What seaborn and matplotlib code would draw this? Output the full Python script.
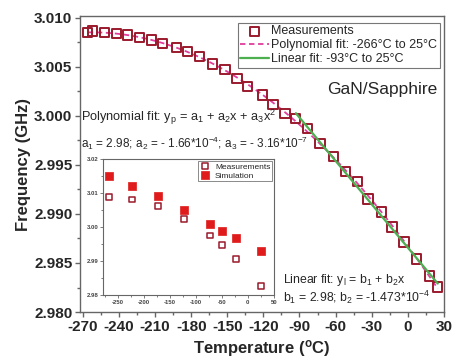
import numpy as np
import matplotlib
matplotlib.use("Agg")
import matplotlib.pyplot as plt
import seaborn as sns
from matplotlib.ticker import MultipleLocator, FormatStrFormatter

# Resonance frequency of the GaN/Sapphire resonator versus temperature
temperature_c = [-266, -262, -252, -242, -233, -223, -213, -204, -192, -183,
                 -173, -162, -152, -142, -133, -121, -112, -102, -93, -83,
                 -73, -62, -52, -42, -33, -22, -13, -3, 7, 18, 25]
frequency_ghz = [3.00854, 3.00867, 3.00854, 3.00844, 3.00827, 3.00803, 3.00776,
                 3.00742, 3.00701, 3.00656, 3.00605, 3.00531, 3.00477, 3.00385,
                 3.00299, 3.00214, 3.00119, 3.00028, 2.99977, 2.99874, 2.99721,
                 2.99585, 2.99432, 2.99330, 2.99153, 2.99020, 2.98867, 2.98714,
                 2.98541, 2.98367, 2.98255]

# Fit coefficients quoted on the chart
poly_a2, poly_a3 = -1.66e-4, -3.16e-7
lin_b2 = -1.473e-4
lin_start = -93

# Inset: measured vs simulated frequency
inset_temp = [-266, -223, -173, -123, -73, -50, -23, 25]
inset_meas = [3.0087, 3.0081, 3.0062, 3.0023, 2.9975, 2.9946, 2.9906, 2.9827]
inset_sim = [3.0150, 3.0121, 3.0091, 3.0050, 3.0009, 2.9989, 2.9969, 2.9929]

sns.set_style("ticks")
plt.rcParams["font.family"] = ["Liberation Sans", "DejaVu Sans"]
plt.rcParams["mathtext.fontset"] = "custom"
plt.rcParams["mathtext.rm"] = "Liberation Sans"
plt.rcParams["mathtext.it"] = "Liberation Sans:italic"
plt.rcParams["mathtext.bf"] = "Liberation Sans:bold"
plt.rcParams["axes.unicode_minus"] = False

DARKRED = "#9a1a2c"
PINK = "#e23c9c"
GREEN = "#4caf50"
RED = "#e01b1b"
SPINE = "#666666"

T = np.asarray(temperature_c, dtype=float)
F = np.asarray(frequency_ghz, dtype=float)

# intercepts fitted with the quoted slopes held fixed
poly_a1 = np.mean(F - poly_a2 * T - poly_a3 * T ** 2)
mask = T >= lin_start
lin_b1 = np.mean(F[mask] - lin_b2 * T[mask])

poly_x = np.linspace(T.min(), T.max(), 300)
poly_y = poly_a1 + poly_a2 * poly_x + poly_a3 * poly_x ** 2
lin_x = np.linspace(lin_start, T.max(), 50)
lin_y = lin_b1 + lin_b2 * lin_x

fig = plt.figure(figsize=(4.54, 3.62), dpi=100)
ax = fig.add_axes([0.1762, 0.1381, 0.8018, 0.8177])

sns.lineplot(x=poly_x, y=poly_y, ax=ax, color=PINK, linewidth=1.3,
             linestyle=(0, (3, 2)), label="Polynomial fit: -266\u00b0C to 25\u00b0C",
             zorder=2)
sns.scatterplot(x=T, y=F, ax=ax, marker="s", s=44, color=DARKRED,
                facecolor="none", edgecolor=DARKRED, linewidth=1.4,
                label="Measurements", zorder=3)
sns.lineplot(x=lin_x, y=lin_y, ax=ax, color=GREEN, linewidth=1.6,
             label="Linear fit: -93\u00b0C to 25\u00b0C", zorder=4)

ax.set_xlim(-272.5, 30.2)
ax.set_ylim(2.980, 3.0102)
ax.xaxis.set_major_locator(MultipleLocator(30))
ax.xaxis.set_minor_locator(MultipleLocator(15))
ax.yaxis.set_major_locator(MultipleLocator(0.005))
ax.yaxis.set_minor_locator(MultipleLocator(0.0025))
ax.yaxis.set_major_formatter(FormatStrFormatter("%.3f"))
ax.xaxis.set_major_formatter(FormatStrFormatter("%d"))
ax.tick_params(which="both", direction="out", top=False, right=False,
               color=SPINE, width=1.0)
ax.tick_params(which="major", length=3.5, pad=2, labelsize=11)
ax.tick_params(which="minor", length=2)
for lbl in ax.get_xticklabels() + ax.get_yticklabels():
    lbl.set_fontweight("bold")
for sp in ax.spines.values():
    sp.set_color(SPINE)
    sp.set_linewidth(1.0)

ax.set_xlabel(r"Temperature ($\mathregular{^o}$C)", fontsize=12,
              fontweight="bold", labelpad=3)
ax.set_ylabel("Frequency (GHz)", fontsize=12, fontweight="bold", labelpad=2)

handles, labels = ax.get_legend_handles_labels()
order = ["Measurements", "Polynomial fit: -266\u00b0C to 25\u00b0C",
         "Linear fit: -93\u00b0C to 25\u00b0C"]
hl = dict(zip(labels, handles))
leg = ax.legend([hl[k] for k in order], order, loc="upper right",
                bbox_to_anchor=(0.969, 0.9365), bbox_transform=fig.transFigure,
                borderaxespad=0, fontsize=9, frameon=True, fancybox=False,
                edgecolor="#777777", framealpha=1, borderpad=0.2,
                labelspacing=0.15, handlelength=2.3, handletextpad=0.2)
leg.get_frame().set_linewidth(0.8)

fig.text(0.8414, 0.7514, "GaN/Sapphire", fontsize=12.5, ha="center", va="center")

fig.text(0.1784, 0.6768,
         r"Polynomial fit: y$_\mathregular{p}$ = a$_\mathregular{1}$ + "
         r"a$_\mathregular{2}$x + a$_\mathregular{3}$x$^\mathregular{2}$",
         fontsize=9.2, ha="left", va="center")
fig.text(0.1784, 0.605,
         r"a$_\mathregular{1}$ = 2.98; a$_\mathregular{2}$ = - 1.66*10$^\mathregular{-4}$; "
         r"a$_\mathregular{3}$ = - 3.16*10$^\mathregular{-7}$",
         fontsize=8.5, ha="left", va="center")
fig.text(0.6233, 0.2265,
         r"Linear fit: y$_\mathregular{l}$ = b$_\mathregular{1}$ + b$_\mathregular{2}$x",
         fontsize=8.8, ha="left", va="center")
fig.text(0.6233, 0.1796,
         r"b$_\mathregular{1}$ = 2.98; b$_\mathregular{2}$ = -1.473*10$^\mathregular{-4}$",
         fontsize=8.8, ha="left", va="center")

# inset comparing measurement and simulation
axin = fig.add_axes([0.2269, 0.1851, 0.3767, 0.3757])
axin.set_facecolor("white")
sns.scatterplot(x=inset_temp, y=inset_meas, ax=axin, marker="s", s=18,
                color=DARKRED, facecolor="none", edgecolor=DARKRED,
                linewidth=1.1, label="Measurements", zorder=3)
sns.scatterplot(x=inset_temp, y=inset_sim, ax=axin, marker="s", s=32,
                color=RED, edgecolor=RED, linewidth=0.5,
                label="Simulation", zorder=3)
axin.set_xlim(-278, 50.5)
axin.set_ylim(2.98, 3.02)
axin.xaxis.set_major_locator(MultipleLocator(50))
axin.xaxis.set_minor_locator(MultipleLocator(25))
axin.yaxis.set_major_locator(MultipleLocator(0.01))
axin.yaxis.set_minor_locator(MultipleLocator(0.005))
axin.yaxis.set_major_formatter(FormatStrFormatter("%.2f"))
axin.xaxis.set_major_formatter(FormatStrFormatter("%d"))
axin.tick_params(which="both", direction="out", top=False, right=False,
                 color=SPINE, width=0.6, labelcolor="#444444")
axin.tick_params(which="major", length=2, pad=1.5, labelsize=4.3)
axin.tick_params(which="minor", length=1.2)
for lbl in axin.get_xticklabels() + axin.get_yticklabels():
    lbl.set_fontweight("bold")
for sp in axin.spines.values():
    sp.set_color(SPINE)
    sp.set_linewidth(0.8)
axin.set_xlabel("")
axin.set_ylabel("")
ileg = axin.legend(loc="upper right", fontsize=6, frameon=True, fancybox=False,
                   edgecolor="#777777", framealpha=1, borderpad=0.2,
                   borderaxespad=0.25, labelspacing=0.15, handlelength=1.2,
                   handletextpad=0.6)
ileg.get_frame().set_linewidth(0.6)

fig.savefig("out.png", dpi=100, facecolor="white")
